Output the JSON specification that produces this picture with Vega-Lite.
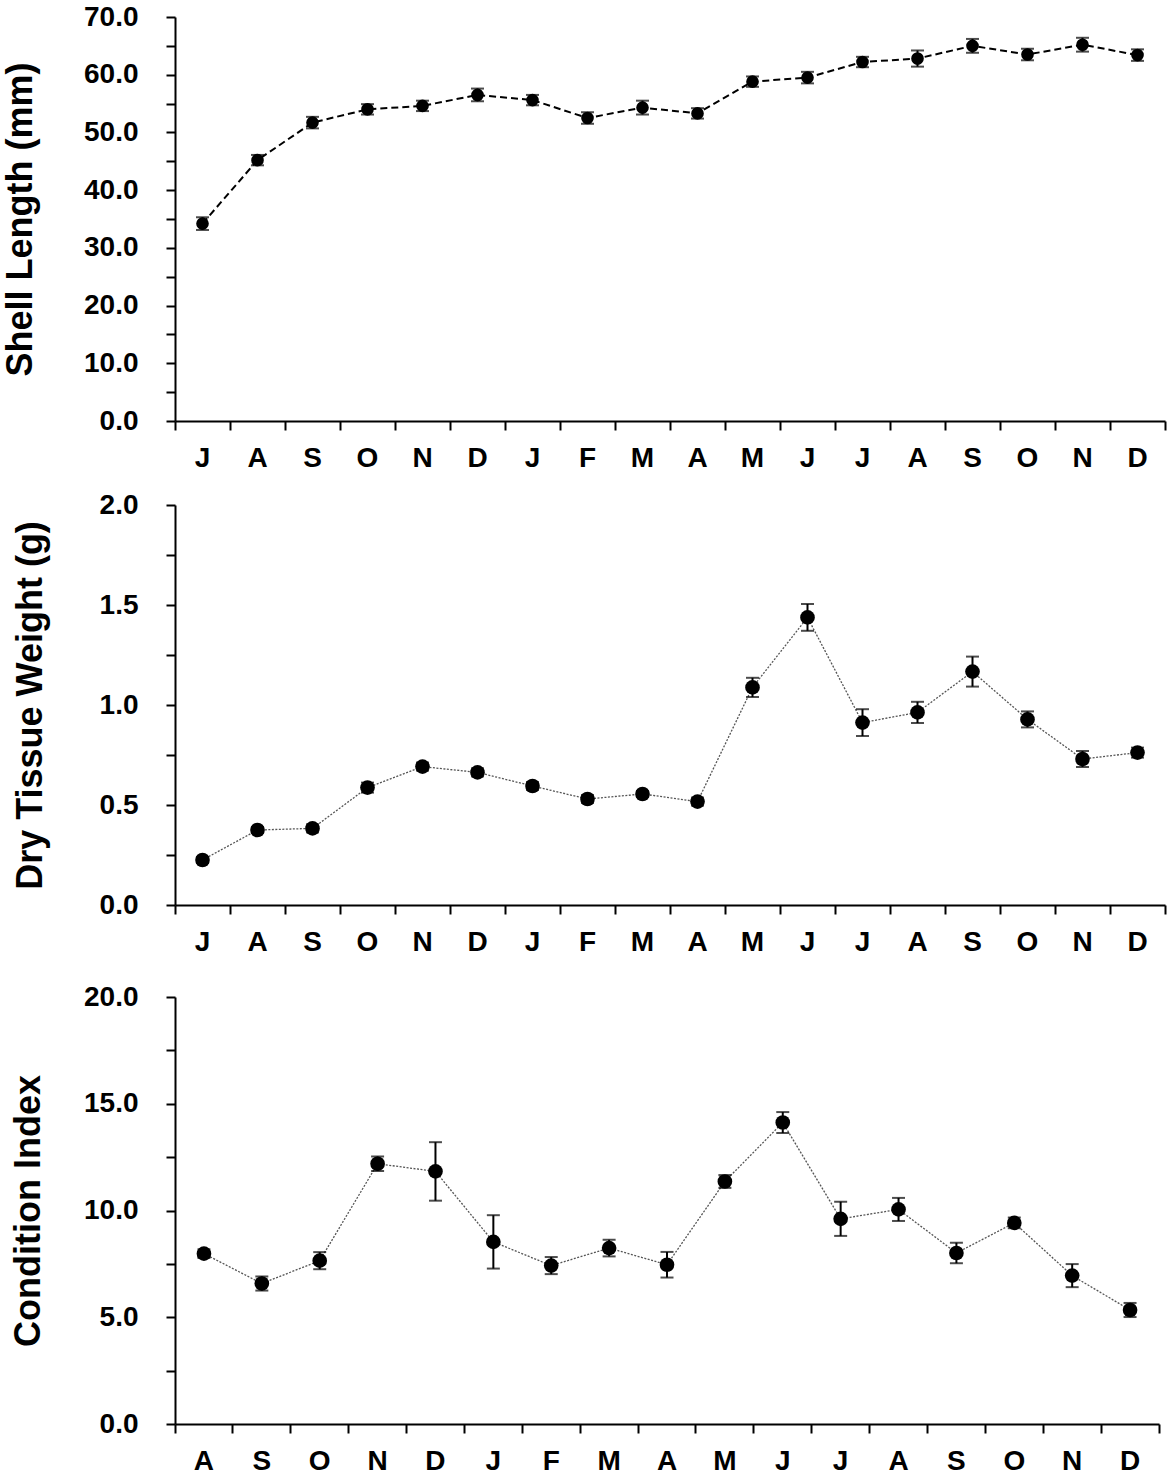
{
  "$schema": "https://vega.github.io/schema/vega-lite/v6.json",
  "background": "white",
  "padding": {"left": 2, "top": 3, "right": 4, "bottom": 2},
  "bounds": "full",
  "spacing": 19,
  "config": {
    "view": {"stroke": null},
    "font": "Liberation Sans",
    "axis": {
      "domainColor": "black", "domainWidth": 2,
      "tickColor": "black", "tickWidth": 2, "tickSize": 9,
      "labelFont": "Liberation Sans", "labelFontSize": 28, "labelFontWeight": "bold", "labelColor": "black",
      "titleFont": "Liberation Sans", "titleFontSize": 36, "titleFontWeight": "bold", "titleColor": "black",
      "grid": false, "labelFlush": false, "labelOverlap": false
    }
  },
  "data": {"values": [
    {"m": "Jul-1", "sl": 34.2, "sl_se": 1.1, "dw": 0.225, "dw_se": 0.015, "ci": null, "ci_se": null},
    {"m": "Aug-1", "sl": 45.2, "sl_se": 0.9, "dw": 0.375, "dw_se": 0.015, "ci": 7.98, "ci_se": 0.2},
    {"m": "Sep-1", "sl": 51.7, "sl_se": 1.0, "dw": 0.383, "dw_se": 0.02, "ci": 6.58, "ci_se": 0.33},
    {"m": "Oct-1", "sl": 54.0, "sl_se": 0.9, "dw": 0.587, "dw_se": 0.025, "ci": 7.65, "ci_se": 0.4},
    {"m": "Nov-1", "sl": 54.6, "sl_se": 0.9, "dw": 0.692, "dw_se": 0.02, "ci": 12.19, "ci_se": 0.34},
    {"m": "Dec-1", "sl": 56.5, "sl_se": 1.1, "dw": 0.663, "dw_se": 0.02, "ci": 11.83, "ci_se": 1.37},
    {"m": "Jan-2", "sl": 55.6, "sl_se": 0.9, "dw": 0.595, "dw_se": 0.02, "ci": 8.53, "ci_se": 1.25},
    {"m": "Feb-2", "sl": 52.5, "sl_se": 1.0, "dw": 0.53, "dw_se": 0.02, "ci": 7.42, "ci_se": 0.4},
    {"m": "Mar-2", "sl": 54.3, "sl_se": 1.2, "dw": 0.555, "dw_se": 0.015, "ci": 8.24, "ci_se": 0.39},
    {"m": "Apr-2", "sl": 53.3, "sl_se": 0.9, "dw": 0.517, "dw_se": 0.02, "ci": 7.46, "ci_se": 0.6},
    {"m": "May-2", "sl": 58.8, "sl_se": 0.9, "dw": 1.088, "dw_se": 0.048, "ci": 11.36, "ci_se": 0.3},
    {"m": "Jun-2", "sl": 59.5, "sl_se": 1.0, "dw": 1.438, "dw_se": 0.067, "ci": 14.12, "ci_se": 0.49},
    {"m": "Jul-2", "sl": 62.2, "sl_se": 0.9, "dw": 0.912, "dw_se": 0.067, "ci": 9.61, "ci_se": 0.8},
    {"m": "Aug-2", "sl": 62.8, "sl_se": 1.4, "dw": 0.963, "dw_se": 0.053, "ci": 10.05, "ci_se": 0.54},
    {"m": "Sep-2", "sl": 65.0, "sl_se": 1.2, "dw": 1.167, "dw_se": 0.075, "ci": 8.01, "ci_se": 0.48},
    {"m": "Oct-2", "sl": 63.5, "sl_se": 1.0, "dw": 0.928, "dw_se": 0.04, "ci": 9.42, "ci_se": 0.25},
    {"m": "Nov-2", "sl": 65.2, "sl_se": 1.2, "dw": 0.73, "dw_se": 0.04, "ci": 6.95, "ci_se": 0.54},
    {"m": "Dec-2", "sl": 63.4, "sl_se": 1.0, "dw": 0.762, "dw_se": 0.025, "ci": 5.34, "ci_se": 0.33}
  ]},
  "vconcat": [
    {
      "width": 990, "height": 404,
      "encoding": {
        "x": {"field": "m", "type": "nominal", "sort": null,
          "scale": {"type": "band", "paddingInner": 0, "paddingOuter": 0},
          "axis": {"title": null, "labelAngle": 0, "bandPosition": 1, "tickExtra": true, "labelPadding": 14, "labelExpr": "substring(datum.label, 0, 1)"}},
        "y": {"field": "sl", "type": "quantitative",
          "scale": {"domain": [0, 70], "nice": false, "zero": false},
          "axis": {"title": "Shell Length (mm)", "values": [0,5,10,15,20,25,30,35,40,45,50,55,60,65,70], "labelExpr": "datum.value % 10 === 0 ? format(datum.value, '.1f') : ''", "labelPadding": 28, "titlePadding": 44}}
      },
      "layer": [
        {"mark": {"type": "line", "color": "black", "strokeWidth": 2, "strokeDash": [7, 4]}},
        {"mark": {"type": "errorbar", "color": "black", "thickness": 2, "ticks": {"size": 13, "thickness": 2, "color": "black"}},
         "encoding": {"yError": {"field": "sl_se"}}},
        {"mark": {"type": "point", "filled": true, "color": "black", "opacity": 1, "size": 160}}
      ]
    },
    {
      "width": 990, "height": 400,
      "encoding": {
        "x": {"field": "m", "type": "nominal", "sort": null,
          "scale": {"type": "band", "paddingInner": 0, "paddingOuter": 0},
          "axis": {"title": "\u00a0", "titleFontSize": 4, "titlePadding": 4, "labelAngle": 0, "bandPosition": 1, "tickExtra": true, "labelPadding": 14, "labelExpr": "substring(datum.label, 0, 1)"}},
        "y": {"field": "dw", "type": "quantitative",
          "scale": {"domain": [0, 2], "nice": false, "zero": false},
          "axis": {"title": "Dry Tissue Weight (g)", "values": [0,0.25,0.5,0.75,1,1.25,1.5,1.75,2], "labelExpr": "round(datum.value * 4) % 2 === 0 ? format(datum.value, '.1f') : ''", "labelPadding": 28, "titlePadding": 50}}
      },
      "layer": [
        {"mark": {"type": "line", "color": "#555555", "strokeWidth": 1.3, "strokeDash": [2, 1.5]}},
        {"mark": {"type": "errorbar", "color": "black", "thickness": 2, "ticks": {"size": 13, "thickness": 2, "color": "black"}},
         "encoding": {"yError": {"field": "dw_se"}}},
        {"mark": {"type": "point", "filled": true, "color": "black", "opacity": 1, "size": 215}}
      ]
    },
    {
      "width": 984, "height": 427,
      "transform": [{"filter": "datum.ci != null"}],
      "encoding": {
        "x": {"field": "m", "type": "nominal", "sort": null,
          "scale": {"type": "band", "paddingInner": 0, "paddingOuter": 0},
          "axis": {"title": null, "labelAngle": 0, "bandPosition": 1, "tickExtra": true, "labelPadding": 14, "labelExpr": "substring(datum.label, 0, 1)"}},
        "y": {"field": "ci", "type": "quantitative",
          "scale": {"domain": [0, 20], "nice": false, "zero": false},
          "axis": {"title": "Condition Index", "values": [0,2.5,5,7.5,10,12.5,15,17.5,20], "labelExpr": "round(datum.value * 2) % 10 === 0 ? format(datum.value, '.1f') : ''", "labelPadding": 28, "titlePadding": 36}}
      },
      "layer": [
        {"mark": {"type": "line", "color": "#555555", "strokeWidth": 1.3, "strokeDash": [2, 1.5]}},
        {"mark": {"type": "errorbar", "color": "black", "thickness": 2, "ticks": {"size": 13, "thickness": 2, "color": "black"}},
         "encoding": {"yError": {"field": "ci_se"}}},
        {"mark": {"type": "point", "filled": true, "color": "black", "opacity": 1, "size": 215}}
      ]
    }
  ]
}
